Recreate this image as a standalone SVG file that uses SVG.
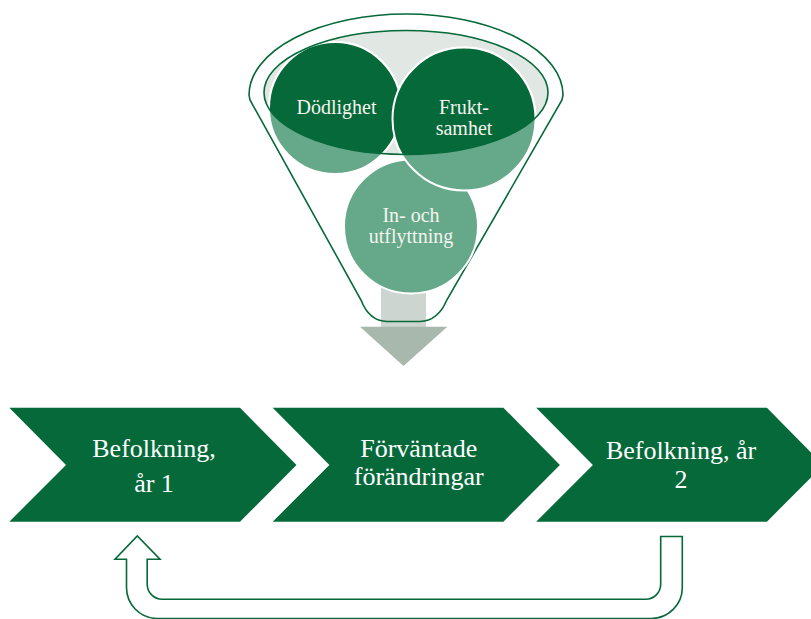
<svg xmlns="http://www.w3.org/2000/svg" width="811" height="619" viewBox="0 0 811 619">
  <style>
    .chev { fill: #05693a; }
    .chev-text { font-family: "Liberation Serif", "DejaVu Serif", serif; font-size: 26px; fill: #ffffff; text-anchor: middle; }
    .ball-text { font-family: "Liberation Serif", "DejaVu Serif", serif; font-size: 20px; fill: #f4f4ee; text-anchor: middle; }
    .ball { fill: #66a88a; stroke: #ffffff; stroke-width: 2; }
    .ball-dark { fill: #05693a; stroke: #ffffff; stroke-width: 2; }
    .outline { fill: none; stroke: #05693a; stroke-width: 1.6; }
  </style>
  <defs>
    <clipPath id="rimClip">
      <ellipse cx="406" cy="92.5" rx="142" ry="62"/>
    </clipPath>
  </defs>

  <rect width="811" height="619" fill="#ffffff"/>

  <g id="connectors">
    <!-- gray down arrow leaving the funnel -->
    <g id="funnel-output">
      <rect x="381" y="280" width="45" height="47" fill="#ccd5d0"/>
      <polygon points="360,326.7 447.3,326.7 403.5,366" fill="#a9b8ad"/>
    </g>
    <!-- return arrow from year 2 back to year 1 -->
    <path id="loop-back" class="outline" stroke-width="2"
          d="M 660.7,536.5 L 682.3,536.5 L 682.3,587.5 A 31 31 0 0 1 651.3,618.5 L 157,618.5 A 31 31 0 0 1 126.5,587.5 L 126.5,559.3 L 115,559.3 L 137.3,536 L 160,559.3 L 147.2,559.3 L 147.2,584.3 A 15 15 0 0 0 162.2,599.3 L 645.7,599.3 A 15 15 0 0 0 660.7,584.3 Z"/>
  </g>

  <g id="funnel">
    <!-- funnel body outline -->
    <path class="outline"
          d="M 249,95 A 157 81 0 0 1 563,95 L 562,100 L 446.8,300 Q 438,321 420,321.5 L 387,321.5 Q 369,321 361,300 L 250,100 Z"/>
    <!-- inner rim -->
    <ellipse cx="406" cy="92.5" rx="142" ry="62" fill="#e1e7e3"/>
  </g>

  <g id="node-flyttning">
    <circle class="ball" cx="411" cy="226.5" r="67"/>
    <text class="ball-text" x="411" y="221.5">In- och</text>
    <text class="ball-text" x="411" y="242.5">utflyttning</text>
  </g>

  <g id="node-dodlighet">
    <circle class="ball" cx="335" cy="108" r="66"/>
  </g>

  <g id="node-fruktsamhet">
    <circle class="ball" cx="464" cy="119" r="71.5"/>
  </g>

  <!-- parts of the balls seen inside the rim -->
  <g id="rim-shading" clip-path="url(#rimClip)">
    <circle class="ball-dark" cx="335" cy="108" r="66"/>
    <circle class="ball-dark" cx="464" cy="119" r="71.5"/>
  </g>
  <ellipse class="outline" cx="406" cy="92.5" rx="142" ry="62" stroke-width="1.4"/>

  <g id="ball-labels">
    <text class="ball-text" x="336.5" y="113.5">Dödlighet</text>
    <text class="ball-text" x="464" y="114">Frukt-</text>
    <text class="ball-text" x="464" y="135">samhet</text>
  </g>

  <g id="step-1">
    <polygon class="chev" points="9.3,407.7 240,407.7 296.5,465 240,521.7 9.3,521.7 66,465"/>
    <text class="chev-text" x="154" y="456.5">Befolkning,</text>
    <text class="chev-text" x="154" y="491.5">år 1</text>
  </g>

  <g id="step-2">
    <polygon class="chev" points="272.7,407.7 503.4,407.7 559.9,465 503.4,521.7 272.7,521.7 329.4,465"/>
    <text class="chev-text" x="418.7" y="456.5">Förväntade</text>
    <text class="chev-text" x="418.7" y="485">förändringar</text>
  </g>

  <g id="step-3">
    <polygon class="chev" points="536.2,407.7 766.9,407.7 823.4,465 766.9,521.7 536.2,521.7 592.9,465"/>
    <text class="chev-text" x="681" y="459">Befolkning, år</text>
    <text class="chev-text" x="681" y="487.5">2</text>
  </g>
</svg>
